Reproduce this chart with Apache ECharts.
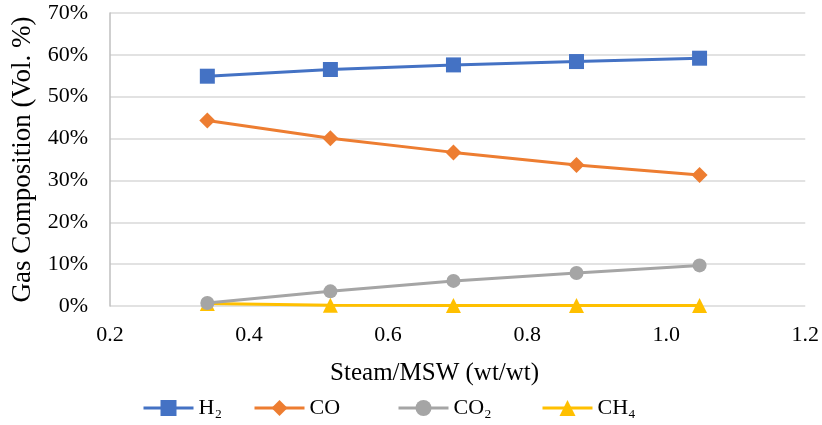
<!DOCTYPE html>
<html><head><meta charset="utf-8">
<script src="https://cdn.jsdelivr.net/npm/echarts@6/dist/echarts.min.js"></script>
<style>html,body{margin:0;padding:0;background:#fff}#c{width:822px;height:425px}</style>
</head><body><div id="c"></div>
<script>
const steamRatio = [0.34, 0.517, 0.694, 0.871, 1.048];
const h2 = [54.9, 56.5, 57.6, 58.4, 59.2];
const co = [44.3, 40.1, 36.7, 33.7, 31.3];
const co2 = [0.7, 3.5, 6.0, 7.9, 9.7];
const ch4 = [0.6, 0.2, 0.1, 0.1, 0.1];
const seriesNames = ['H\u2082', 'CO', 'CO\u2082', 'CH\u2084'];
const colors = ['#4472C4', '#ED7D31', '#A5A5A5', '#FFC000'];
const symbols = ['rect', 'diamond', 'circle', 'triangle'];
const symbolSizes = [15, 16, 14, 15];
const values = [h2, co, co2, ch4];
const legendLeft = [142, 253, 397, 541];

const font = '"Liberation Serif","Times New Roman",serif';
const chart = echarts.init(document.getElementById('c'));
chart.setOption({
  animation: false,
  grid: {left: 110, right: 16, top: 13, bottom: 119},
  legend: seriesNames.map((n, i) => ({
    data: [n], left: legendLeft[i], top: 397, padding: 0, itemWidth: 50, itemHeight: 20, itemGap: 5,
    lineStyle: {width: 3},
    textStyle: {fontFamily: font, fontSize: 22, color: '#000'}
  })),
  xAxis: {
    type: 'value', min: 0.2, max: 1.2, interval: 0.2,
    name: 'Steam/MSW (wt/wt)', nameLocation: 'middle', nameGap: 55,
    nameTextStyle: {fontFamily: font, fontSize: 25, color: '#000', padding: [0, 46, 0, 0]},
    axisLine: {show: false}, axisTick: {show: false},
    splitLine: {show: false},
    axisLabel: {fontFamily: font, fontSize: 22, color: '#000', margin: 18, formatter: v => v.toFixed(1)}
  },
  yAxis: {
    type: 'value', min: 0, max: 70, interval: 10,
    name: 'Gas Composition (Vol. %)', nameLocation: 'middle', nameGap: 69,
    nameTextStyle: {fontFamily: font, fontSize: 27, color: '#000'},
    axisLine: {show: true, lineStyle: {color: '#BFBFBF', width: 1.5}}, axisTick: {show: false},
    splitLine: {lineStyle: {color: '#D9D9D9', width: 1.5}},
    axisLabel: {fontFamily: font, fontSize: 22, color: '#000', margin: 22, formatter: v => v + '%'}
  },
  series: seriesNames.map((n, i) => ({
    name: n, type: 'line',
    data: steamRatio.map((x, j) => [x, values[i][j]]),
    symbol: symbols[i], symbolSize: symbolSizes[i], showSymbol: true,
    itemStyle: {color: colors[i]},
    lineStyle: {color: colors[i], width: 3},
    z: 10 - i
  }))
});
</script></body></html>
